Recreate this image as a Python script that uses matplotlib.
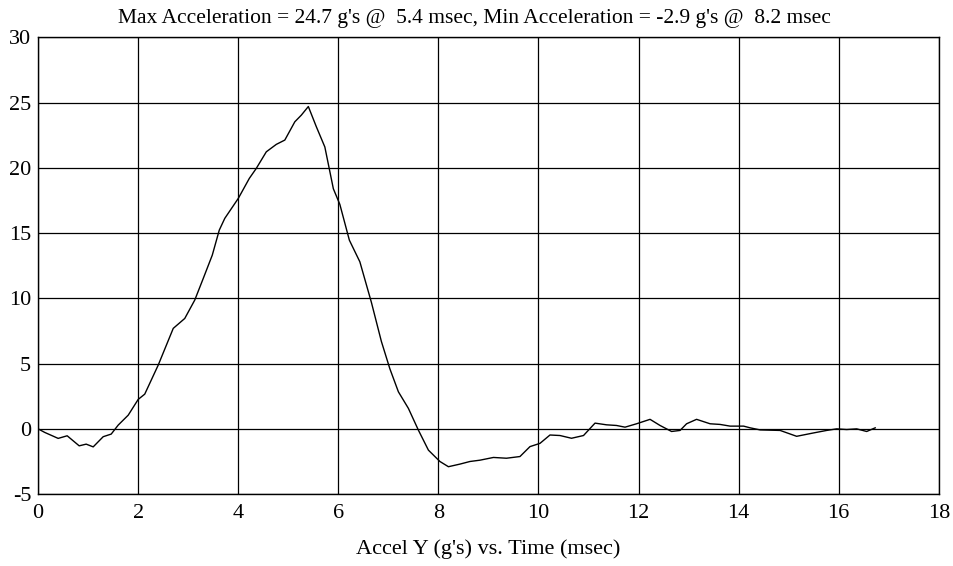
import numpy as np
import matplotlib
matplotlib.use("Agg")
import matplotlib.pyplot as plt

# Accel Y trace (msec, g's)
time_ms = [0.0, 0.13, 0.4, 0.58, 0.82, 0.96, 1.1, 1.3, 1.46, 1.6, 1.8, 2.0, 2.13,
           2.4, 2.7, 2.93, 3.13, 3.3, 3.48, 3.62, 3.73, 4.0, 4.22, 4.36, 4.56,
           4.76, 4.93, 5.13, 5.26, 5.4, 5.56, 5.73, 5.9, 6.03, 6.22, 6.43, 6.66,
           6.86, 7.03, 7.2, 7.4, 7.6, 7.8, 8.03, 8.2, 8.43, 8.63, 8.83, 9.1, 9.36,
           9.63, 9.83, 10.03, 10.23, 10.43, 10.66, 10.9, 11.13, 11.36, 11.56,
           11.73, 11.96, 12.23, 12.43, 12.66, 12.83, 12.96, 13.16, 13.43, 13.63,
           13.83, 14.1, 14.23, 14.43, 14.83, 15.16, 15.5, 15.76, 15.96, 16.16,
           16.36, 16.56, 16.73]
accel_g = [0.0, -0.27, -0.73, -0.53, -1.3, -1.17, -1.38, -0.6, -0.4, 0.29, 1.05,
           2.26, 2.66, 4.89, 7.7, 8.46, 9.87, 11.53, 13.31, 15.23, 16.13, 17.66,
           19.19, 19.96, 21.23, 21.8, 22.13, 23.53, 24.04, 24.7, 23.15, 21.6,
           18.4, 17.2, 14.46, 12.8, 9.7, 6.7, 4.6, 2.84, 1.57, -0.1, -1.63, -2.5,
           -2.9, -2.7, -2.5, -2.4, -2.19, -2.25, -2.12, -1.36, -1.11, -0.47,
           -0.51, -0.72, -0.51, 0.44, 0.31, 0.26, 0.13, 0.39, 0.73, 0.26, -0.2,
           -0.12, 0.39, 0.73, 0.39, 0.34, 0.21, 0.21, 0.08, -0.08, -0.12, -0.57,
           -0.31, -0.12, 0.0, -0.05, 0.0, -0.2, 0.08]

x_ticks = [0, 2, 4, 6, 8, 10, 12, 14, 16, 18]
y_ticks = [-5, 0, 5, 10, 15, 20, 25, 30]

title_txt = "Max Acceleration = 24.7 g's @  5.4 msec, Min Acceleration = -2.9 g's @  8.2 msec"
xlabel_txt = "Accel Y (g's) vs. Time (msec)"

plt.rcParams['font.family'] = ['Liberation Serif', 'DejaVu Serif']
plt.rcParams['axes.unicode_minus'] = False

fig = plt.figure(figsize=(9.54, 5.66), dpi=100)
ax = fig.add_axes([0.040, 0.127, 0.944, 0.807])

ax.plot(time_ms, accel_g, color='black', linewidth=1.0)

ax.set_xlim(0, 18)
ax.set_ylim(-5, 30)
ax.set_xticks(x_ticks)
ax.set_yticks(y_ticks)
ax.grid(True, color='black', linewidth=0.9)
ax.tick_params(length=0, labelsize=16)
ax.tick_params(axis='y', pad=5)
ax.tick_params(axis='x', pad=7)
for s in ax.spines.values():
    s.set_linewidth(1.0)
    s.set_color('black')

fig.text(474 / 954, 1 - 18 / 566, title_txt, ha='center', va='center', fontsize=15.5)
fig.text(488 / 954, 1 - 549 / 566, xlabel_txt, ha='center', va='center', fontsize=16)

fig.savefig("out.png", dpi=100)
